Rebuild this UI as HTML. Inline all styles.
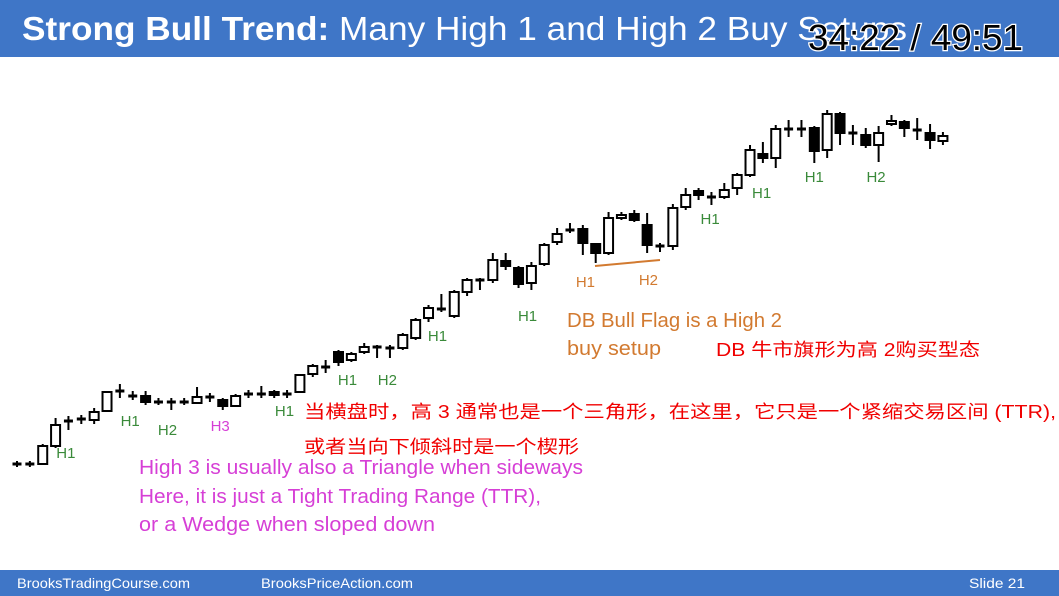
<!DOCTYPE html>
<html><head><meta charset="utf-8"><style>
html,body{margin:0;padding:0;background:#fff;}
svg{display:block;}
text{font-family:"Liberation Sans","Noto Sans CJK SC",sans-serif;}
</style></head><body>
<svg id="chart" width="1059" height="596" viewBox="0 0 1059 596">
<rect x="0" y="0" width="1059" height="57" fill="#3F76C7"/>
<text x="22" y="40" font-size="33" fill="#fff" textLength="885" lengthAdjust="spacingAndGlyphs"><tspan font-weight="bold">Strong Bull Trend:</tspan> Many High 1 and High 2 Buy Setups</text>
<text x="808" y="50" font-size="36" fill="#000" stroke="#fff" stroke-width="2.5" paint-order="stroke" textLength="215" lengthAdjust="spacingAndGlyphs">34:22 / 49:51</text>
<rect x="0" y="570" width="1059" height="26" fill="#3F76C7"/>
<text x="17" y="588" font-size="14" fill="#fff" textLength="173" lengthAdjust="spacingAndGlyphs">BrooksTradingCourse.com</text>
<text x="261" y="588" font-size="14" fill="#fff" textLength="152" lengthAdjust="spacingAndGlyphs">BrooksPriceAction.com</text>
<text x="969" y="588" font-size="14" fill="#fff" textLength="56" lengthAdjust="spacingAndGlyphs">Slide  21</text>
<g id="candles"></g>
<line x1="595" y1="266" x2="660" y2="260" stroke="#D27A30" stroke-width="2"/>
<g id="labels"></g>
<text x="567" y="327" font-size="20" fill="#D27A30" textLength="215" lengthAdjust="spacingAndGlyphs">DB Bull Flag is a High 2</text>
<text x="567" y="355" font-size="20" fill="#D27A30" textLength="94" lengthAdjust="spacingAndGlyphs">buy setup</text>
<text x="716" y="356" font-size="18" fill="#F00000" textLength="264" lengthAdjust="spacingAndGlyphs">DB 牛市旗形为高 2购买型态</text>
<text x="304" y="418" font-size="18" fill="#F00000" textLength="752" lengthAdjust="spacingAndGlyphs">当横盘时，高 3 通常也是一个三角形，在这里，它只是一个紧缩交易区间 (TTR),</text>
<text x="304" y="453" font-size="18" fill="#F00000" textLength="275" lengthAdjust="spacingAndGlyphs">或者当向下倾斜时是一个楔形</text>
<text x="139" y="474" font-size="20" fill="#D63FD6" textLength="444" lengthAdjust="spacingAndGlyphs">High 3 is usually also a Triangle when sideways</text>
<text x="139" y="503" font-size="20" fill="#D63FD6" textLength="402" lengthAdjust="spacingAndGlyphs">Here, it is just a Tight Trading Range (TTR),</text>
<text x="139" y="531" font-size="20" fill="#D63FD6" textLength="296" lengthAdjust="spacingAndGlyphs">or a Wedge when sloped down</text>
</svg>
<script>
// prices (higher = up); bar index along x
const opens =  [136,136,136,154,179,181,180,189,209,204,204,198,198,198,197,203,200,194,206,206,208,206,208,226,233,248,240,248,253,252,252,262,282,291,284,308,320,320,339,332,317,336,358,370,371,356,347,382,386,375,354,354,393,409,403,403,412,425,446,442,471,471,472,450,486,467,465,455,476,478,470,467,459];
const highs =  [139,139,156,182,184,185,192,209,216,209,209,202,202,202,213,207,202,206,210,214,210,210,226,236,240,250,248,257,255,255,267,282,295,306,310,322,322,347,347,334,338,357,372,377,375,357,388,388,390,387,357,396,412,412,408,417,427,455,458,475,480,480,474,490,488,475,472,474,485,480,482,476,468];
const lows =   [133,133,135,152,170,176,176,188,202,200,195,195,190,195,196,198,190,193,202,202,202,202,207,223,227,234,238,246,242,242,250,260,278,288,282,304,310,317,330,312,310,334,355,367,345,337,345,380,378,347,348,350,390,400,395,401,405,423,437,432,463,463,437,442,455,455,452,438,474,463,460,451,455];
const closes = [136,136,154,175,179,181,188,208,209,204,198,198,198,198,203,203,194,204,206,206,205,206,225,234,233,238,246,253,253,252,265,280,292,291,308,320,320,340,334,316,334,355,366,370,357,347,382,385,380,355,354,392,405,405,403,410,425,450,442,471,471,471,449,486,467,467,455,467,479,472,470,460,464];
const x0 = 17, dx = 12.86, bw = 9;
const yOf = p => 600 - p;
const g = document.getElementById('candles');
const NS = 'http://www.w3.org/2000/svg';
for (let i = 0; i < opens.length; i++) {
  const x = x0 + i * dx;
  const o = opens[i], c = closes[i], h = highs[i], l = lows[i];
  const grp = document.createElementNS(NS, 'g');
  
  
  const wick = document.createElementNS(NS, 'line');
  wick.setAttribute('x1', x); wick.setAttribute('x2', x);
  wick.setAttribute('y1', yOf(h)); wick.setAttribute('y2', yOf(l));
  wick.setAttribute('stroke', '#000'); wick.setAttribute('stroke-width', '2');
  
  
  grp.appendChild(wick);
  const top = yOf(Math.max(o, c)), bot = yOf(Math.min(o, c));
  if (bot - top < 2) {
    const t = document.createElementNS(NS, 'rect');
    t.setAttribute('x', x - bw / 2); t.setAttribute('y', top - 1.5);
    t.setAttribute('width', bw); t.setAttribute('height', Math.max(3, bot - top + 3));
    t.setAttribute('fill', '#000');
    
    
    grp.appendChild(t);
  } else {
    const r = document.createElementNS(NS, 'rect');
    r.setAttribute('x', x - bw / 2); r.setAttribute('y', top);
    r.setAttribute('width', bw); r.setAttribute('height', bot - top);
    r.setAttribute('fill', c > o ? '#fff' : '#000');
    r.setAttribute('stroke', '#000'); r.setAttribute('stroke-width', '2');
    
    
    grp.appendChild(r);
  }
  g.appendChild(grp);
}
const labelText = ['H1','H1','H2','H3','H1','H1','H2','H1','H1','H1','H2','H1','H1','H1','H2'];
const labelBar =  [3.8,8.8,11.7,15.8,20.8,25.7,28.8,32.7,39.7,44.2,49.1,53.9,57.9,62,66.8];
const labelPrice =[142,174,165,169,184,215,215,259,279,313,315,376,402,418,418];
const labelColor = ['#3A8A3A','#3A8A3A','#3A8A3A','#D63FD6','#3A8A3A','#3A8A3A','#3A8A3A','#3A8A3A','#3A8A3A','#D27A30','#D27A30','#3A8A3A','#3A8A3A','#3A8A3A','#3A8A3A'];
const lg = document.getElementById('labels');
for (let i = 0; i < labelText.length; i++) {
  const t = document.createElementNS(NS, 'text');
  t.setAttribute('x', x0 + labelBar[i] * dx);
  t.setAttribute('y', yOf(labelPrice[i]));
  t.setAttribute('font-size', '15');
  t.setAttribute('text-anchor', 'middle');
  t.setAttribute('fill', labelColor[i]);
  t.textContent = labelText[i];
  
  
  lg.appendChild(t);
}
</script>
</body></html>
